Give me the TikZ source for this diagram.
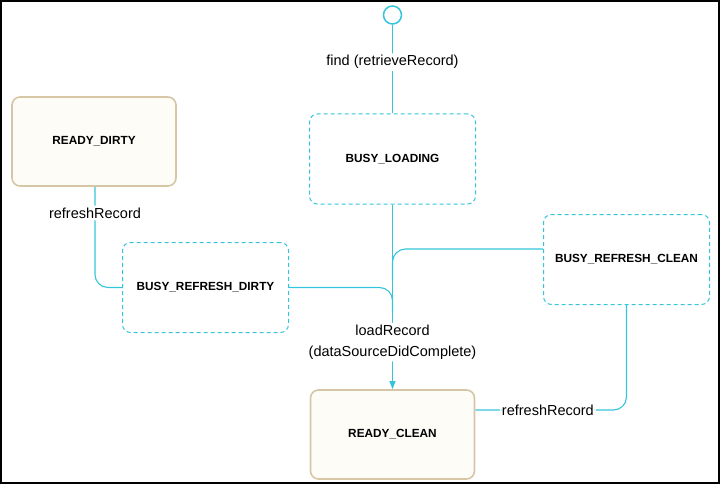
\documentclass[tikz,border=0pt]{standalone}
\usepackage{fontspec}
\setmainfont{Liberation Sans}
\usetikzlibrary{arrows.meta,calc}
\definecolor{cy}{HTML}{35C5DB}
\definecolor{cream}{HTML}{FEFCF6}
\definecolor{tan}{HTML}{D6C6A6}
\tikzset{
  readybox/.style={draw=tan, fill=cream, line width=1.6pt, rounded corners=8pt,
    minimum width=164pt, minimum height=89pt, font=\bfseries\fontsize{11.8}{14}\selectfont, inner sep=0pt},
  busybox/.style={draw=cy, fill=white, line width=1pt, dash pattern=on 4pt off 3pt, rounded corners=8pt,
    minimum width=166pt, minimum height=90pt, font=\bfseries\fontsize{11.8}{14}\selectfont, inner sep=0pt},
  conn/.style={draw=cy, line width=1.1pt, rounded corners=13pt},
  elabel/.style={fill=white, font=\fontsize{14.5}{21}\selectfont, inner sep=2pt, align=center},
}
\begin{document}
\begin{tikzpicture}[x=1pt,y=-1pt]
\useasboundingbox (0,0) rectangle (720,484);
\draw[line width=2pt] (1,1) rectangle (719,483);
% nodes
\node[draw=cy, line width=1.5pt, fill=white, circle, minimum size=18pt, inner sep=0pt] (init) at (392.5,15) {};
\node[readybox] (rd) at (94,141.5) {READY\_DIRTY};
\node[busybox] (bl) at (392.5,159) {BUSY\_LOADING};
\node[busybox] (brd) at (205.5,287.5) {BUSY\_REFRESH\_DIRTY};
\node[busybox] (brc) at (626.5,259.5) {BUSY\_REFRESH\_CLEAN};
\node[readybox] (rc) at (392.5,434.5) {READY\_CLEAN};
\coordinate (m1) at (392.5,312);
\coordinate (m2) at (392.5,280);
% connectors
\draw[conn] (init.south) -- (bl.north) node[pos=0.42, elabel] {find (retrieveRecord)};
\draw[conn, -{Triangle[length=8pt,width=6pt]}] (bl.south) -- (rc.north)
  node[pos=0.745, elabel] {loadRecord\\(dataSourceDidComplete)};
\draw[conn] (brd.east) -| (m1);
\draw[conn] (brc.west |- 0,249) -| (m2);
\draw[conn] (rd.south -| 95,0) |- (brd.west) node[pos=0.13, elabel] {refreshRecord};
\draw[conn] (brc.south) |- (rc.east |- 0,410) node[pos=0.76, elabel] {refreshRecord};
\end{tikzpicture}
\end{document}
